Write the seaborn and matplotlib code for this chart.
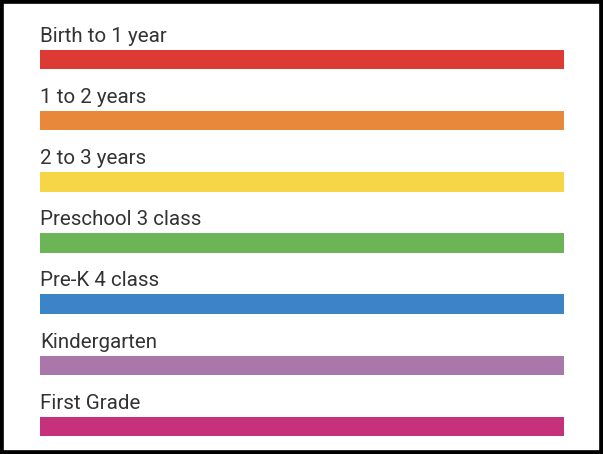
import matplotlib
matplotlib.use("Agg")
import matplotlib.pyplot as plt
import matplotlib.patches as patches
import seaborn as sns
import pandas as pd

# 各阶段（全部等长的色条）
stages = [
    "Birth to 1 year",
    "1 to 2 years",
    "2 to 3 years",
    "Preschool 3 class",
    "Pre-K 4 class",
    "Kindergarten",
    "First Grade",
]
lengths = [1, 1, 1, 1, 1, 1, 1]
colors = ["#dd3a33", "#e8883a", "#f6d647", "#6bb556", "#3b85c6", "#a977aa", "#c6317c"]

df = pd.DataFrame({"stage": stages, "length": lengths})

sns.set_style("white")
plt.rcParams["font.family"] = ["Roboto", "DejaVu Sans"]

W, H = 603, 454
fig = plt.figure(figsize=(W / 100, H / 100), dpi=100)
ax = fig.add_axes([40 / W, (H - 451) / H, 524 / W, 443.5 / H])

sns.barplot(
    data=df, x="length", y="stage", hue="stage", palette=colors,
    order=stages, legend=False, width=0.32, saturation=1,
    linewidth=0, ax=ax,
)

ax.set_xlim(0, 1)
ax.set_ylim(6.4, -0.85)
ax.axis("off")

# 每条色条上方的标签
for i, name in enumerate(stages):
    ax.text(0, i - 0.29, name, ha="left", va="baseline",
            fontsize=14.8, color="#333333")

# 外框
fig.patches.append(patches.Rectangle(
    (0, 0), 1, 1, transform=fig.transFigure, fill=False,
    edgecolor="black", linewidth=5.5, zorder=10,
))

fig.savefig("out.png", dpi=100, facecolor="white")
